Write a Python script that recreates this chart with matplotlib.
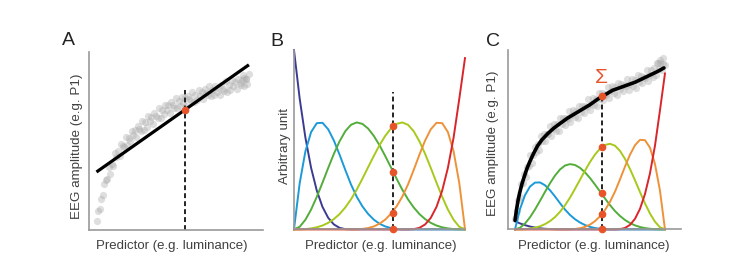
import numpy as np
import matplotlib.pyplot as plt

plt.rcParams['font.family'] = ['Liberation Sans', 'DejaVu Sans']

# --- dados (preditor normalizado 0..1) ---

# nuvem de pontos (mesmas posicoes x nos paineis A e C)
scatter_x = list(np.linspace(0, 1, 101)) + [0.955, 0.97, 0.985]
scatter_a = [0.05, 0.105, 0.118, 0.173, 0.195, 0.258, 0.28, 0.285, 0.355, 0.315,
             0.37, 0.36, 0.43, 0.41, 0.445, 0.413, 0.482, 0.47, 0.465, 0.525,
             0.475, 0.519, 0.498, 0.557, 0.531, 0.56, 0.522, 0.584, 0.566, 0.558,
             0.615, 0.562, 0.604, 0.581, 0.638, 0.61, 0.636, 0.597, 0.658, 0.639,
             0.63, 0.686, 0.632, 0.673, 0.649, 0.705, 0.675, 0.70, 0.66, 0.72,
             0.70, 0.688, 0.741, 0.684, 0.722, 0.695, 0.748, 0.716, 0.739, 0.697,
             0.755, 0.734, 0.723, 0.777, 0.721, 0.76, 0.733, 0.786, 0.754, 0.777,
             0.735, 0.792, 0.769, 0.756, 0.808, 0.75, 0.787, 0.759, 0.811, 0.778,
             0.80, 0.758, 0.816, 0.794, 0.782, 0.835, 0.778, 0.816, 0.789, 0.842,
             0.81, 0.833, 0.791, 0.849, 0.827, 0.815, 0.868, 0.811, 0.849, 0.822,
             0.875, 0.84, 0.855, 0.85]
scatter_c = [0.06, 0.10, 0.165, 0.18, 0.25, 0.26, 0.31, 0.29, 0.345, 0.355,
             0.415, 0.368, 0.416, 0.458, 0.429, 0.475, 0.442, 0.518, 0.49, 0.529,
             0.493, 0.531, 0.53, 0.578, 0.52, 0.558, 0.59, 0.551, 0.588, 0.549,
             0.62, 0.586, 0.622, 0.583, 0.619, 0.615, 0.66, 0.60, 0.635, 0.665,
             0.625, 0.66, 0.62, 0.69, 0.655, 0.69, 0.65, 0.685, 0.68, 0.725,
             0.665, 0.701, 0.732, 0.693, 0.729, 0.69, 0.76, 0.725, 0.76, 0.72,
             0.755, 0.75, 0.795, 0.735, 0.77, 0.80, 0.758, 0.791, 0.749, 0.817,
             0.78, 0.813, 0.771, 0.804, 0.797, 0.84, 0.778, 0.811, 0.839, 0.797,
             0.83, 0.789, 0.858, 0.822, 0.856, 0.815, 0.849, 0.843, 0.887, 0.826,
             0.86, 0.889, 0.848, 0.902, 0.861, 0.93, 0.894, 0.928, 0.887, 0.921,
             0.915, 0.925, 0.945, 0.955]

# painel A: ajuste linear
reta_x = [0.007, 0.993]
reta_y = [0.331, 0.923]
corte_x = 0.578
ponto_a = 0.672

# painel B: funcoes de base (amostradas a cada 1/30)
grid = np.linspace(0, 1, 31)
base = [
    [1.0, 0.729, 0.512, 0.343, 0.216, 0.125, 0.064, 0.027, 0.008, 0.001, 0,
     0, 0, 0, 0, 0, 0, 0, 0, 0, 0, 0, 0, 0, 0, 0, 0, 0, 0, 0, 0],
    [0, 0.257, 0.434, 0.542, 0.592, 0.594, 0.558, 0.495, 0.416, 0.331, 0.25,
     0.182, 0.128, 0.086, 0.054, 0.031, 0.016, 0.007, 0.002, 0.0, 0,
     0, 0, 0, 0, 0, 0, 0, 0, 0, 0],
    [0, 0.014, 0.053, 0.110, 0.181, 0.260, 0.342, 0.421, 0.491, 0.547, 0.583,
     0.596, 0.588, 0.562, 0.521, 0.469, 0.409, 0.346, 0.282, 0.221, 0.167,
     0.122, 0.085, 0.057, 0.036, 0.021, 0.011, 0.005, 0.001, 0.0, 0.0],
    [0.0, 0.0, 0.001, 0.005, 0.011, 0.021, 0.036, 0.057, 0.085, 0.122, 0.167,
     0.221, 0.282, 0.346, 0.409, 0.469, 0.521, 0.562, 0.588, 0.596, 0.583,
     0.547, 0.491, 0.421, 0.342, 0.260, 0.181, 0.110, 0.053, 0.014, 0],
    [0, 0, 0, 0, 0, 0, 0, 0, 0, 0, 0,
     0.0, 0.002, 0.007, 0.016, 0.031, 0.054, 0.086, 0.128, 0.182, 0.25,
     0.331, 0.416, 0.495, 0.558, 0.594, 0.592, 0.542, 0.434, 0.257, 0],
    [0, 0, 0, 0, 0, 0, 0, 0, 0, 0, 0,
     0, 0, 0, 0, 0, 0, 0, 0, 0, 0,
     0.001, 0.008, 0.027, 0.064, 0.125, 0.216, 0.343, 0.512, 0.729, 0.955],
]
pontos_b = [0.576, 0.32, 0.093, 0.0]

# painel C: pesos de cada base e a soma
pesos = [0.045, 0.44, 0.61, 0.80, 0.84, 0.91]
soma_x = [0, 0.01, 0.02, 0.03, 0.045, 0.06, 0.08, 0.10, 0.125, 0.15, 0.18, 0.22,
          0.26, 0.30, 0.35, 0.40, 0.45, 0.50, 0.55, 0.60, 0.65, 0.70, 0.75, 0.80,
          0.85, 0.90, 0.95, 0.993]
soma_y = [0.05, 0.11, 0.16, 0.20, 0.25, 0.29, 0.34, 0.38, 0.425, 0.465, 0.50, 0.535,
          0.565, 0.59, 0.62, 0.645, 0.67, 0.695, 0.725, 0.75, 0.775, 0.79, 0.805, 0.82,
          0.84, 0.86, 0.88, 0.90]
pontos_c = [0.743, 0.457, 0.204, 0.084, 0.0]

cores = ['#3c3b92', '#1b9ad7', '#52ad3a', '#a6c91c', '#ee9239', '#d9262b']
laranja = '#e8542a'
cinza_txt = '#404040'
tracejado = (0, (2.5, 1.6))


def estilo(ax):
    for s in ['top', 'right']:
        ax.spines[s].set_visible(False)
    for s in ['left', 'bottom']:
        ax.spines[s].set_color('#9a9a9a')
        ax.spines[s].set_linewidth(1.2)
    ax.set_xticks([])
    ax.set_yticks([])


fig = plt.figure(figsize=(7.42, 2.69), dpi=100)
axA = fig.add_axes([0.1199, 0.1450, 0.2345, 0.6617])
axB = fig.add_axes([0.3962, 0.1476, 0.2305, 0.6665])
axC = fig.add_axes([0.6846, 0.1476, 0.2332, 0.6665])
for ax in (axA, axB, axC):
    estilo(ax)

# A
axA.scatter(scatter_x, scatter_a, s=27, color='#a9a9a9', alpha=0.38, linewidths=0, zorder=1)
axA.plot([corte_x, corte_x], [0, 0.787], color='#222222', lw=1.4, ls=tracejado, zorder=2)
axA.plot(reta_x, reta_y, color='black', lw=2.3, zorder=3)
axA.plot(corte_x, ponto_a, 'o', color=laranja, ms=4.5, zorder=4)
axA.set_xlim(-0.051, 1.094)
axA.set_ylim(0, 1)

# B
for b, c in zip(base, cores):
    axB.plot(grid, b, color=c, lw=1.4, clip_on=False, zorder=2)
axB.plot([corte_x, corte_x], [0, 0.767], color='#222222', lw=1.4, ls=tracejado, zorder=3)
axB.plot([corte_x] * len(pontos_b), pontos_b, 'o', color=laranja, ms=4.5,
         clip_on=False, zorder=4)
axB.set_xlim(0, 1)
axB.set_ylim(0, 1)

# C
axC.scatter(scatter_x, scatter_c, s=27, color='#a9a9a9', alpha=0.38, linewidths=0, zorder=1)
for b, c, w in zip(base, cores, pesos):
    axC.plot(grid, w * np.array(b), color=c, lw=1.4, clip_on=False, zorder=2)
axC.plot(soma_x, soma_y, color='black', lw=2.6, solid_capstyle='round', zorder=3)
axC.plot([corte_x, corte_x], [0, pontos_c[0]], color='#222222', lw=1.4, ls=tracejado, zorder=4)
axC.plot([corte_x] * len(pontos_c), pontos_c, 'o', color=laranja, ms=4.5,
         clip_on=False, zorder=5)
axC.text(corte_x, 0.816, 'Σ', color=laranja, fontsize=15, ha='center', va='baseline')
axC.set_xlim(-0.047, 1.107)
axC.set_ylim(0, 1)

# textos
for letra, x, y in [('A', 0.0832, 0.8327), ('B', 0.3639, 0.8290), ('C', 0.6550, 0.8290)]:
    fig.text(x, y, letra, fontsize=14, color='#222222', va='baseline')
for x in [0.2309, 0.5132, 0.8005]:
    fig.text(x, 0.0755, 'Predictor (e.g. luminance)', fontsize=9.5, color=cinza_txt,
             ha='center', va='baseline')
fig.text(0.1038, 0.4554, 'EEG amplitude (e.g. P1)', fontsize=9.6, color=cinza_txt,
         rotation=90, ha='center', va='center')
fig.text(0.3841, 0.4591, 'Arbitrary unit', fontsize=9.6, color=cinza_txt,
         rotation=90, ha='center', va='center')
fig.text(0.6644, 0.4665, 'EEG amplitude (e.g. P1)', fontsize=9.6, color=cinza_txt,
         rotation=90, ha='center', va='center')

fig.savefig('out.png', dpi=100)
